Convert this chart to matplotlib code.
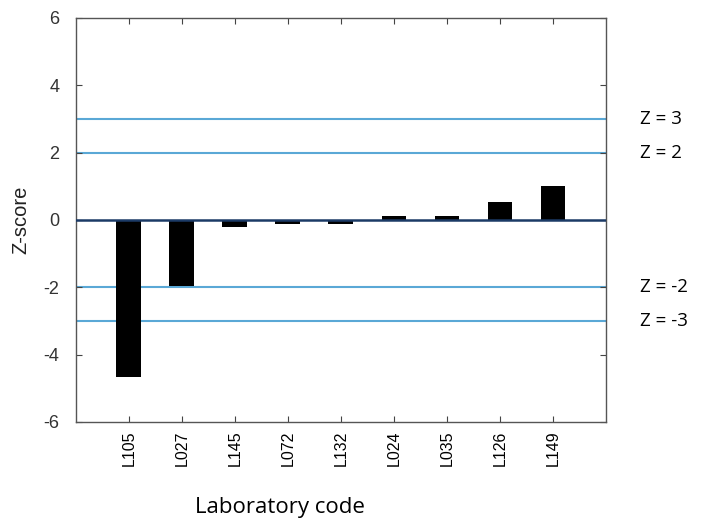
import matplotlib.pyplot as plt
import numpy as np

labs = ["L105", "L027", "L145", "L072", "L132", "L024", "L035", "L126", "L149"]
zscores = [-4.65, -1.96, -0.2, -0.11, -0.11, 0.12, 0.12, 0.53, 1.0]
limits = [3, 2, -2, -3]

fig = plt.figure(figsize=(7.03, 5.22), dpi=100)
ax = fig.add_axes([0.108, 0.1916, 0.754, 0.774])

x = np.arange(1, len(labs) + 1)
ax.bar(x, zscores, width=0.47, color="black", zorder=2)

# limit lines for |z| = 2 and 3, plus the zero line
for z in limits:
    ax.axhline(z, color="#5aa8d6", lw=1.5, zorder=1)
ax.axhline(0, color="#1b3a66", lw=1.8, zorder=3)

ax.set_xlim(0, 10)
ax.set_ylim(-6, 6)
ax.set_xticks(x)
ax.set_xticklabels(labs, rotation=90, fontsize=11.5, family="Liberation Sans")
ax.set_yticks(np.arange(-6, 7, 2))
ax.set_yticklabels([str(v) for v in range(-6, 7, 2)], fontsize=13,
                   family="Liberation Sans", color="#333333")
ax.tick_params(direction="in", top=True, right=True, length=4, width=0.8,
               color="#444444")
ax.tick_params(axis="y", pad=12)
ax.tick_params(axis="x", pad=6)
for s in ax.spines.values():
    s.set_color("#555555")
    s.set_linewidth(1.0)

ax.set_ylabel("Z-score", fontsize=14.5, family="Liberation Sans", labelpad=9,
              color="#222222")

for z in limits:
    ax.text(1.065, z, f"Z = {z}", transform=ax.get_yaxis_transform(),
            va="center", ha="left", fontsize=13.5, family="Open Sans")

fig.text(0.398, 0.008, "Laboratory code", ha="center", va="bottom",
         fontsize=16, family="Open Sans")

plt.savefig("out.png", dpi=100)
